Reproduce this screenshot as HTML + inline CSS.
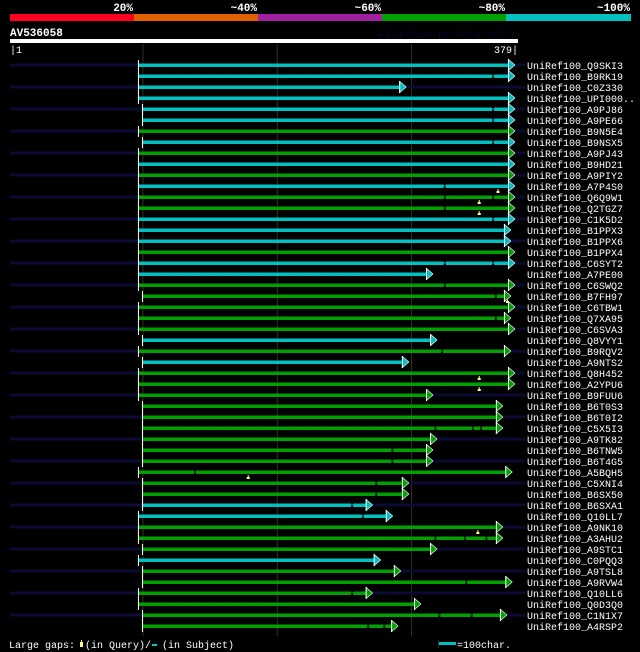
<!DOCTYPE html>
<html><head><meta charset="utf-8"><style>
html,body{margin:0;padding:0;background:#000;}
svg{display:block;font-family:"Liberation Mono","DejaVu Sans Mono",monospace;}
</style></head><body>
<svg id="chart" width="640" height="652" viewBox="0 0 640 652" xmlns="http://www.w3.org/2000/svg">
<rect width="640" height="652" fill="#000"/>
<g>
<rect x="10" y="14" width="124" height="7" fill="#ff0022"/>
<rect x="134" y="14" width="124" height="7" fill="#e06000"/>
<rect x="258" y="14" width="124" height="7" fill="#a020a0"/>
<rect x="382" y="14" width="124" height="7" fill="#00a000"/>
<rect x="506" y="14" width="125" height="7" fill="#00c0c0"/>
<g fill="#fff" font-size="11" font-weight="bold" text-anchor="end">
<text x="133" y="11">20%</text><text x="257" y="11">~40%</text><text x="381" y="11">~60%</text><text x="505" y="11">~80%</text><text x="630" y="11">~100%</text>
</g></g>
<text x="10" y="36" fill="#fff" font-size="11" font-weight="bold">AV536058</text>
<text x="516" y="37" fill="#06062a" font-size="10" text-anchor="end">AlignView.pm Beta rel.7</text>
<rect x="10" y="39" width="508" height="4" fill="#fff"/>
<text x="10" y="53" fill="#fff" font-size="10">|1</text>
<text x="518" y="53" fill="#fff" font-size="10" text-anchor="end">379|</text>
<g id="grid"></g>
<g id="rows"></g>
<g font-size="10" fill="#fff">
<text x="9" y="648">Large gaps:</text>
<rect x="80" y="642" width="3" height="5" fill="#ffff80"/><rect x="81" y="640" width="1" height="2" fill="#ffff80"/>
<text x="85" y="648">(in Query)/</text><rect x="152" y="644" width="5" height="2" fill="#00c0c0"/>
<text x="162" y="648">(in Subject)</text>
<rect x="438" y="640" width="1" height="8" fill="#333318"/>
<rect x="439" y="642" width="17" height="3" fill="#00c0c0"/>
<text x="457" y="648">=100char.</text>
</g>
</svg>
<script>
const names=["Q9SKI3","B9RK19","C0Z330","UPI000..","A9PJ86","A9PE66","B9N5E4","B9NSX5","A9PJ43","B9HD21","A9PIY2","A7P4S0","Q6Q9W1","Q2TGZ7","C1K5D2","B1PPX3","B1PPX6","B1PPX4","C6SYT2","A7PE00","C6SWQ2","B7FH97","C6TBW1","Q7XA95","C6SVA3","Q8VYY1","B9RQV2","A9NTS2","Q8H452","A2YPU6","B9FUU6","B6T0S3","B6T0I2","C5X5I3","A9TK82","B6TNW5","B6T4G5","A5BQH5","C5XNI4","B6SX50","B6SXA1","Q10LL7","A9NK10","A3AHU2","A9STC1","C0PQQ3","A9TSL8","A9RVW4","Q10LL6","Q0D3Q0","C1N1X7","A4RSP2"];
const starts=[97,97,97,97,100,100,97,100,97,97,97,97,97,97,97,97,97,97,97,97,97,100,97,97,97,100,97,100,97,97,97,100,100,100,100,100,100,97,100,100,100,97,97,97,100,97,100,100,97,97,100,100];
const ends=[377,377,296,377,377,377,377,377,377,377,377,377,377,377,377,374,374,377,377,316,377,374,377,374,377,319,374,298,377,377,316,368,368,368,319,316,316,375,298,298,271,286,368,368,319,277,292,375,271,307,371,290];
const identity=["c","c","c","c","c","c","g","c","g","c","g","c","g","g","c","c","c","g","c","c","g","g","g","g","g","c","g","c","g","g","g","g","g","g","g","g","g","g","g","g","c","c","g","g","g","c","g","g","g","g","g","g"];
const gaps=[[],[360],[],[],[360],[360],[],[360],[],[],[],[324],[324,360],[324],[360],[],[],[],[324,360],[],[324],[362],[],[362],[],[],[322],[],[],[],[],[],[],[317,345,351],[],[285],[285],[138],[273],[273],[255],[263],[],[317,339,355],[],[],[],[340],[255],[],[320,344],[267,279]];
const queryGaps=[[],[],[],[],[],[],[],[],[],[],[],[364],[350],[350],[],[],[],[],[],[],[],[371],[],[],[],[],[],[],[350],[350],[],[],[],[],[],[],[],[178],[],[],[],[],[349],[],[],[],[],[],[],[],[],[]];
const ticks=[100,200,300];
const NS="http://www.w3.org/2000/svg";
const px=p=>10+(p-1)*1.343;
const rowY=i=>65+i*11;
const colors={c:"#00c0c0",g:"#00a000"};
function mk(tag,attrs,parent){const e=document.createElementNS(NS,tag);for(const k in attrs)e.setAttribute(k,attrs[k]);parent.appendChild(e);return e;}
const grid=document.getElementById('grid');
ticks.forEach(t=>{const l=mk('line',{x1:px(t),x2:px(t),y1:44,y2:636,stroke:"#333318","stroke-width":1},grid);

});
const rows=document.getElementById('rows');
names.forEach((n,i)=>{
 const y=rowY(i);
 const g=mk('g',{},rows);
 
 
 if(i%2===0) mk('rect',{x:10,y:y-1.5,width:515,height:3,fill:"#0a0a32"},g);
 const x0=px(starts[i]),x1=px(ends[i])-7;
 const col=colors[identity[i]];
 mk('rect',{x:x0,y:y-1.5,width:x1-x0,height:3.5,fill:col},g);
 gaps[i].forEach(gp=>{mk('rect',{x:px(gp),y:y-1.5,width:2,height:3.5,fill:"#000"},g);mk('rect',{x:px(gp),y:y-0.5,width:2,height:1,fill:col},g);});
 mk('rect',{x:x0-1,y:y-5,width:1,height:11,fill:"#fff"},g);
 mk('polygon',{points:`${x1},${y-6} ${x1+7},${y} ${x1},${y+6}`,fill:col},g);
 mk('line',{x1:x1+0.5,y1:y-6,x2:x1+0.5,y2:y+6,stroke:"#fff","stroke-width":1},g);
 mk('line',{x1:x1,y1:y-6,x2:x1+7,y2:y,stroke:"#fff","stroke-width":0.6},g);
 mk('line',{x1:x1,y1:y+6,x2:x1+7,y2:y,stroke:"#fff","stroke-width":0.6},g);
 queryGaps[i].forEach(q=>{mk('rect',{x:px(q)-1,y:y+5,width:3,height:2,fill:"#ffff80"},g);mk('rect',{x:px(q),y:y+3,width:1,height:2,fill:"#ffff80"},g);});
 const t=mk('text',{x:527,y:y+4,fill:"#fff","font-size":10},g);
 t.textContent="UniRef100_"+n;
});
</script>
</body></html>
